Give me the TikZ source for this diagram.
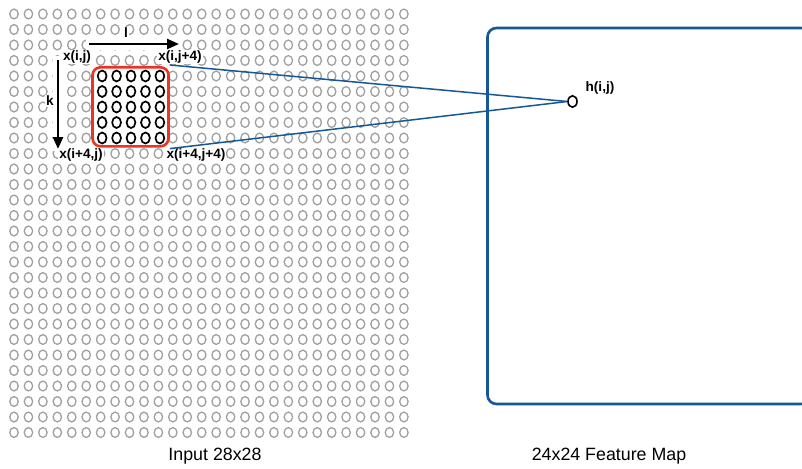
\documentclass[tikz,border=0pt]{standalone}
\usepackage{fontspec}
\setmainfont{Liberation Sans}
\usetikzlibrary{arrows.meta,shapes.geometric}
\definecolor{gridgray}{RGB}{160,160,160}
\definecolor{mapblue}{RGB}{22,88,150}
\definecolor{winred}{RGB}{236,52,36}
\begin{document}
\begin{tikzpicture}[x=1pt,y=-1pt,
  greyo/.style={draw=gridgray, line width=1.3pt},
  blacko/.style={draw=black, line width=1.7pt},
  lbl/.style={font=\fontsize{13.6}{15}\selectfont\bfseries, fill=white, inner sep=1pt},
  captxt/.style={font=\fontsize{17.8}{20}\selectfont, inner sep=0pt},
  bigarrow/.style={line width=2.4pt, -{Triangle[length=12pt,width=10pt]}},
  conn/.style={draw=mapblue, line width=1.5pt},
]
\clip (0,0) rectangle (802,468);
\fill[white] (0,0) rectangle (802,468);
% input grid 28x28
\foreach \i in {0,...,27}{
  \foreach \j in {0,...,27}{
    \draw[greyo] ({14+14.44*\j},{14+15.5*\i}) ellipse [x radius=4.2pt, y radius=4.9pt];
  }
}
% white backgrounds for arrows
\draw[white, line width=13pt] (86,44) -- (182,44);
\draw[white, line width=11pt] (58,56) -- (58,151);
% arrows
\coordinate (la) at (89,44);
\coordinate (lb) at (179,44);
\coordinate (ka) at (58,60);
\coordinate (kb) at (58,149);
\draw[bigarrow] (la) -- (lb);
\draw[bigarrow] (ka) -- (kb);
\node[lbl] (l) at (126,33) {l};
\node[lbl] (k) at (50,101) {k};
% labels
\node[lbl] (xij) at (77,57) {x(i,j)};
\node[lbl] (xij4) at (180,57) {x(i,j+4)};
\node[lbl] (xi4j) at (81,155) {x(i+4,j)};
\node[lbl] (xi4j4) at (196,155) {x(i+4,j+4)};
% red window
\node[draw=winred, fill=white, line width=2.6pt, rounded corners=8pt,
      minimum width=76pt, minimum height=79pt, inner sep=0pt] (rb) at (130.5,106.8) {};
\foreach \i in {4,...,8}{
  \foreach \j in {6,...,10}{
    \draw[blacko] ({15.5+14.44*\j},{14+15.5*\i}) ellipse [x radius=4.4pt, y radius=5.5pt];
  }
}
% feature map
\draw[draw=mapblue, line width=2.6pt, rounded corners=9pt] (487.5,28) rectangle (810,404);
\node[draw=black, ellipse, line width=1.6pt, minimum width=9pt, minimum height=11.5pt, inner sep=0pt] (h) at (572.5,101.5) {};
\node[font=\fontsize{13.6}{15}\selectfont\bfseries, inner sep=0pt] (hl) at (600,88) {h(i,j)};
% connectors
\draw[conn] ([yshift=1pt]rb.north east) -- (h.west);
\draw[conn] ([yshift=-1pt]rb.south east) -- (h.west);
% captions
\node[captxt] (cin) at (215,456) {Input 28x28};
\node[captxt] (cfm) at (609,456) {24x24 Feature Map};
\end{tikzpicture}
\end{document}
